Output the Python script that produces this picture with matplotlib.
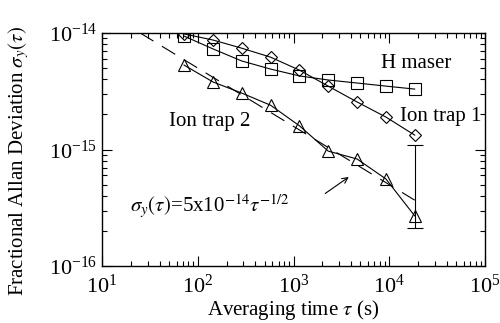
import numpy as np
import matplotlib
matplotlib.use("Agg")
import matplotlib.pyplot as plt

plt.rcParams["font.family"] = ["Liberation Serif", "DejaVu Serif"]
plt.rcParams["mathtext.fontset"] = "stix"

# averaging times (s)
tau = np.array([72, 144, 288, 576, 1152, 2304, 4608, 9216, 18432])

# fractional Allan deviation
h_maser = np.array([9.4e-15, 7.3e-15, 5.75e-15, 4.9e-15, 4.28e-15,
                    3.95e-15, 3.72e-15, 3.5e-15, 3.3e-15])
ion_trap_1 = np.array([9.8e-15, 8.7e-15, 7.4e-15, 6.2e-15, 4.8e-15,
                       3.5e-15, 2.56e-15, 1.9e-15, 1.33e-15])
ion_trap_2 = np.array([5.3e-15, 3.8e-15, 3.05e-15, 2.4e-15, 1.6e-15,
                       9.7e-16, 8.3e-16, 5.6e-16, 2.7e-16])

# error bar on the last ion trap 2 point
err_tau = [18432]
err_low = [2.12e-16]
err_high = [1.09e-15]

# guide line sigma = 5e-14 tau^-1/2
fit_tau = np.array([25, 18432])
fit_sigma = 5e-14 * fit_tau ** -0.5

x_ticks = [1e1, 1e2, 1e3, 1e4, 1e5]
y_ticks = [1e-16, 1e-15, 1e-14]

fig = plt.figure(figsize=(5, 3.23), dpi=100)
ax = fig.add_axes([0.204, 0.176, 0.766, 0.722])

lw = 0.8
ax.plot(fit_tau, fit_sigma, color="black", lw=lw, dashes=(14, 9))
ax.plot(tau, h_maser, color="black", lw=lw, marker="s", ms=8.5,
        mfc="none", mec="black", mew=lw)
ax.plot(tau, ion_trap_1, color="black", lw=lw, marker="D", ms=6,
        mfc="none", mec="black", mew=lw)
ax.plot(tau, ion_trap_2, color="black", lw=lw, marker="^", ms=9,
        mfc="none", mec="black", mew=lw)

mid = np.sqrt(np.array(err_low) * np.array(err_high))
ax.errorbar(err_tau, mid,
            yerr=[mid - np.array(err_low), np.array(err_high) - mid],
            fmt="none", ecolor="black", elinewidth=lw, capsize=6, capthick=lw)

ax.set_xscale("log")
ax.set_yscale("log")
ax.set_xticks(x_ticks)
ax.set_yticks(y_ticks)
ax.set_xlim(10, 1e5)
ax.set_ylim(1e-16, 1e-14)

ax.tick_params(which="both", direction="in", top=True, right=True,
               labelsize=16, width=0.8)
ax.tick_params(which="major", length=7)
ax.tick_params(which="minor", length=3.5)
ax.tick_params(axis="x", pad=6)
for s in ax.spines.values():
    s.set_linewidth(1.0)

ax.set_xlabel(r"Averaging time $\tau$ (s)", fontsize=15, labelpad=0)
ax.set_ylabel(r"Fractional Allan Deviation $\sigma_y(\tau)$", fontsize=15)
ax.yaxis.set_label_coords(-0.185, 0.45)

ax.text(0.82, 0.871, "H maser", transform=ax.transAxes, fontsize=15,
        ha="center", va="center")
ax.text(0.885, 0.64, "Ion trap 1", transform=ax.transAxes, fontsize=15,
        ha="center", va="center")
ax.text(0.282, 0.622, "Ion trap 2", transform=ax.transAxes, fontsize=15,
        ha="center", va="center")
ax.text(0.073, 0.258, r"$\sigma_y(\tau)$=5x10$^{-14}$$\tau^{-1/2}$",
        transform=ax.transAxes, fontsize=15, ha="left", va="center")

ax.annotate("", xy=(3990, 6.0e-16), xytext=(2030, 4.07e-16),
            arrowprops=dict(arrowstyle="->", color="black", lw=0.8))

fig.savefig("out.png", dpi=100)
